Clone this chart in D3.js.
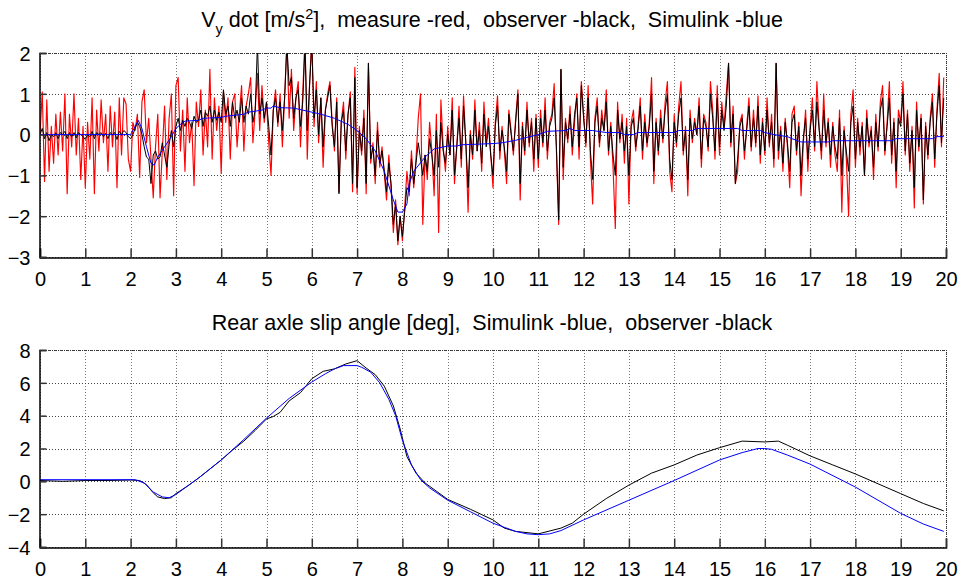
<!DOCTYPE html>
<html>
<head>
<meta charset="utf-8">
<script src="https://cdn.jsdelivr.net/npm/d3@7"></script>
<style>
body { margin: 0; background: #fff; }
svg { display: block; font-family: "Liberation Sans", Arial, sans-serif; }
text { white-space: pre; }
</style>
</head>
<body>
<svg width="966" height="580"></svg>
<script>
// sample step of the measured / observed lateral acceleration [s]
const dt = 0.05;

// lateral acceleration, measurement (red), one value per dt from t = 0
const measure = [
  0.0, 1.05, -1.15, 0.85, -0.9, 0.2, -0.7, 0.5, -0.5, 0.55, -0.4, 1.0, -1.45, 0.5, -0.3, 1.0, -0.5, 0.4, -1.1, 0.2,
  -1.3, 0.3, -0.6, 0.9, -1.45, 0.6, -0.4, 0.85, -0.2, 0.5, -0.9, 0.7, -0.3, 0.55, -1.3, 0.9, -0.5, 0.9, 0.75, -0.6,
  -0.9, 0.3, 0.1, 0.5, -1.05, 0.8, 1.1, -0.2, 0.4, -0.6, -1.55, -0.3, 0.5, -1.55, -0.4, 0.7, -1.1, 0.4, 1.0, -1.5,
  1.2, 1.4, -0.4, 0.6, -0.9, 0.9, -0.2, 0.3, -1.25, 0.8, 0.2, 1.1, -0.5, 0.6, -0.3, 1.6, -0.6, 0.9, 0.1, 0.7,
  -0.95, 1.05, 0.3, 0.9, -0.6, 0.8, 1.0, -0.3, 0.5, 1.2, -0.4, 0.7, 1.0, 1.4, -0.2, 0.6, 1.5, 0.1, 1.2, 0.3,
  0.8, -0.2, -1.0, 0.6, 1.1, 0.2, 1.0, -0.3, 0.9, 2.3, 0.4, 1.6, 0.1, 0.9, 1.3, -0.3, 1.0, 2.4, -0.6, 1.2,
  2.4, 0.2, 1.3, -0.2, 0.9, -0.8, 0.6, 1.0, 1.3, 0.3, -0.4, 0.9, -1.4, 0.3, 0.8, -0.6, 0.5, 1.05, -1.4, 1.65,
  -1.45, 0.2, -0.5, 0.6, -1.45, 1.75, -0.7, -0.2, -1.2, 0.3, -0.8, -0.3, -0.95, -1.6, -0.5, -1.3, -2.4, -1.6, -2.7, -2.0,
  -2.6, -1.8, -0.9, -1.5, -0.4, -1.3, -0.6, 0.4, 1.0, -2.2, -0.5, -1.1, 0.3, -0.4, -1.5, 0.5, -2.4, 0.85, -0.3, -0.9,
  0.2, -0.5, 0.9, -1.2, -0.3, 0.7, -0.8, 0.95, -0.2, -1.9, 0.1, -0.6, 0.85, -0.4, 0.3, -0.9, 0.8, -0.2, 0.4, -0.5,
  -1.3, 0.3, 0.95, -0.6, 0.2, -0.4, -1.2, 0.6, 0.1, -0.5, 0.4, 1.1, -1.6, 0.3, -0.5, 0.8, -0.3, 0.4, -0.9, 0.5,
  -0.8, 0.6, -0.3, 0.9, -0.6, 0.3, 0.5, 1.25, -0.4, -2.2, 1.6, -1.1, 0.4, -0.2, 0.7, -0.5, 0.3, 1.0, -0.6, 1.3,
  0.5, -0.3, 1.2, -0.6, -1.7, 0.4, 0.9, -0.3, 0.6, 0.1, 1.1, -0.5, 0.3, -0.8, -2.3, 0.8, -0.2, 0.5, -0.7, 0.4,
  -1.7, 0.3, 0.6, -0.4, 0.2, 0.9, -0.6, 0.5, -0.3, 0.3, 1.4, -1.2, 0.4, -0.5, 0.6, -0.2, 0.8, 1.3, -0.9, -1.4,
  0.5, -0.3, 0.7, 1.3, -0.5, 0.2, -1.5, 0.6, -0.2, 0.4, 0.0, 0.9, -0.8, 0.5, 0.3, -0.4, 1.3, 0.6, -0.6, 1.2,
  -0.5, 0.8, 0.2, 1.0, 1.75, -0.3, 0.7, -1.2, -0.9, 0.3, 0.5, -0.6, 0.2, 0.9, -0.4, 0.6, -0.3, 0.95, -0.7, 0.4,
  -0.5, 0.9, -0.3, 0.5, -0.8, 1.75, -0.6, 0.2, -0.9, 0.4, -0.3, -1.3, 0.5, 0.7, -0.5, 0.3, -1.5, -0.2, 0.6, -0.9,
  0.2, 0.9, -0.4, 1.3, 0.2, -0.6, 1.0, -0.3, 0.4, -0.8, 0.3, -0.5, -0.9, 0.6, -1.9, 0.2, -0.6, -2.0, 0.5, 1.1,
  -0.8, 0.4, -0.5, 0.3, -1.0, 0.6, -0.3, 0.2, -1.1, 0.5, -0.4, 0.8, 1.2, -0.5, 0.3, 1.3, -0.7, 0.4, -1.3, 0.6,
  0.3, 1.3, -0.5, 0.6, -0.9, 0.2, -1.8, 0.8, -0.4, 0.5, -1.7, 0.3, -0.6, 0.4, 1.0, -0.8, 0.6, 1.5, -0.3, 1.4
];

// lateral acceleration, observer (black), same time base
const observer = [
  0.0, 0.15, -0.1, 0.05, -0.15, 0.0, -0.05, 0.05, -0.1, 0.05, 0.0, 0.08, -0.1, 0.05, -0.05, 0.05, -0.08, 0.05, 0.0, -0.05,
  -0.12, 0.0, -0.05, 0.08, -0.1, 0.05, 0.0, 0.05, -0.05, 0.03, -0.1, 0.05, 0.0, 0.05, -0.12, 0.08, 0.0, 0.1, 0.05, -0.05,
  -0.1, 0.0, 0.15, 0.3, 0.2, 0.0, -0.3, -0.55, -0.6, -1.2, -0.5, -0.4, -0.6, -0.55, -0.2, -0.5, -0.8, -0.25, 0.1, -0.3,
  0.2, 0.4, 0.1, 0.35, 0.2, 0.4, 0.3, 0.15, 0.45, 0.3, 0.35, 0.6, 0.2, 0.55, 0.45, 0.7, 0.3, 0.6, 0.35, 0.55,
  0.3, 1.1, 0.5, 0.7, 0.2, 0.8, 0.4, 0.6, 0.3, 0.9, 0.3, 0.7, 0.5, 1.0, 0.3, 0.6, 2.2, 0.5, 0.9, 0.4,
  0.8, 0.2, -0.5, 0.6, 0.9, 0.3, 0.8, 0.1, 0.9, 2.2, 1.2, 1.4, 0.4, 0.9, 1.1, 0.2, 0.8, 2.2, 0.1, 1.2,
  2.2, 0.4, 1.1, 0.0, 0.9, -0.3, 0.6, 0.9, 1.2, 0.2, -0.3, 0.8, -1.45, 0.3, 0.6, -0.4, 0.5, 0.9, -1.2, 1.4,
  -1.3, 0.1, -0.4, 0.4, -1.2, 1.75, -0.6, -0.3, -1.0, 0.1, -0.7, -0.4, -0.9, -1.4, -0.7, -1.2, -2.2, -1.7, -2.6, -2.0,
  -2.5, -1.9, -1.3, -1.4, -0.6, -1.2, -0.7, -0.2, -0.6, -1.0, -0.5, -0.9, -0.1, -0.5, -1.0, 0.1, -0.8, 0.3, -0.4, -0.7,
  0.0, -0.5, 0.6, -1.0, -0.3, 0.4, -0.6, 0.7, -0.2, -1.3, 0.0, -0.5, 0.6, -0.4, 0.1, -0.7, 0.5, -0.3, 0.2, -0.5,
  -1.0, 0.2, 0.7, -0.4, 0.1, -0.3, -0.9, 0.5, 0.0, -0.4, 0.3, 1.0, -1.2, 0.2, -0.4, 0.6, -0.2, 0.3, -0.6, 0.4,
  -0.6, 0.4, -0.2, 0.6, -0.4, 0.2, 0.4, 0.9, -0.3, -2.1, 1.6, -0.8, 0.3, -0.1, 0.5, -0.3, 0.5, 0.9, -0.3, 1.2,
  0.4, -0.2, 0.9, -0.4, -1.1, 0.3, 0.7, -0.2, 0.4, 0.1, 0.8, -0.4, 0.2, -0.5, -1.0, 0.6, -0.1, 0.3, -0.4, 0.2,
  -1.0, 0.2, 0.4, -0.3, 0.1, 0.7, -0.4, 0.3, -0.2, 0.2, 1.0, -0.9, 0.3, -0.4, 0.4, -0.1, 0.6, 1.0, -0.6, -1.1,
  0.3, -0.2, 0.5, 0.9, -0.4, 0.1, -1.1, 0.4, -0.1, 0.3, 0.0, 0.7, -0.6, 0.4, 0.2, -0.3, 1.0, 0.4, -0.4, 0.9,
  -0.3, 0.6, 0.1, 0.7, 1.75, -0.2, 0.5, -1.2, -0.6, 0.2, 0.4, -0.4, 0.1, 0.7, -0.3, 0.4, -0.2, 0.7, -0.5, 0.3,
  -0.4, 0.6, -0.2, 0.3, -0.6, 1.75, -0.4, 0.1, -0.7, 0.3, -0.2, -0.9, 0.3, 0.5, -0.4, 0.2, -1.0, -0.1, 0.4, -0.6,
  0.1, 0.6, -0.3, 0.8, 0.1, -0.4, 0.6, -0.2, 0.3, -0.5, 0.2, -0.3, -0.6, 0.4, -1.0, 0.1, -0.4, -0.9, 0.3, 0.7,
  -0.6, 0.3, -0.3, 0.2, -1.0, 0.4, -0.2, 0.1, -0.8, 0.3, -0.3, 0.6, 0.9, -0.4, 0.2, 0.9, -0.5, 0.3, -0.9, 0.4,
  0.2, 1.0, -0.4, 0.5, -0.7, 0.1, -1.3, 0.6, -0.3, 0.4, -1.6, 0.2, -0.5, 0.3, 0.8, -0.6, 0.5, 1.2, -0.2, 0.9
];

// lateral acceleration, Simulink (blue)
const accSimT = [0, 2.0, 2.1, 2.17, 2.25, 2.35, 2.45, 2.52, 2.6, 2.75, 2.9, 3.0, 3.1, 3.2, 3.5, 3.6, 4.0, 4.1, 4.5, 4.6, 4.9, 5.0, 5.1, 5.15, 5.3, 5.6, 5.8, 6.2, 6.5, 6.8, 7.0, 7.2, 7.4, 7.6, 7.8, 7.9, 8.0, 8.1, 8.15, 8.25, 8.5, 8.7, 9.0, 9.2, 9.3, 10.0, 10.2, 10.5, 10.7, 11.0, 11.2, 11.6, 11.7, 11.8, 12.2, 12.5, 12.8, 12.9, 13.1, 13.2, 14.0, 14.1, 14.4, 14.5, 15.4, 15.5, 15.9, 16.0, 16.2, 16.5, 16.6, 16.8, 17.4, 17.5, 18.8, 18.9, 19.7, 19.8, 19.95];
const accSimV = [0, 0, 0.2, 0.35, 0.15, -0.3, -0.7, -0.75, -0.55, -0.3, -0.05, 0.15, 0.25, 0.33, 0.35, 0.4, 0.42, 0.45, 0.5, 0.55, 0.6, 0.65, 0.65, 0.7, 0.66, 0.65, 0.6, 0.5, 0.4, 0.25, 0.1, -0.1, -0.4, -0.9, -1.6, -1.9, -1.9, -1.7, -1.2, -0.9, -0.55, -0.35, -0.28, -0.28, -0.25, -0.22, -0.2, -0.14, -0.08, 0.0, 0.08, 0.1, 0.15, 0.1, 0.1, 0.05, 0.05, 0.0, 0.0, 0.05, 0.05, 0.1, 0.1, 0.15, 0.15, 0.1, 0.1, 0.05, 0.0, -0.05, -0.1, -0.18, -0.18, -0.15, -0.15, -0.1, -0.1, -0.05, -0.05];

// rear axle slip angle, Simulink (blue)
const slipSimT = [0, 2.1, 2.3, 2.5, 2.7, 2.85, 3.0, 3.5, 4.0, 4.5, 5.0, 5.5, 6.0, 6.3, 6.5, 6.7, 7.0, 7.1, 7.3, 7.5, 7.7, 7.85, 8.0, 8.2, 8.4, 8.6, 9.0, 9.5, 10.0, 10.5, 10.75, 11.0, 11.25, 11.5, 12.0, 13.0, 14.0, 15.0, 15.5, 15.85, 16.0, 16.15, 16.5, 17.0, 18.0, 19.0, 19.5, 19.95];
const slipSimV = [0.1, 0.1, -0.1, -0.65, -0.95, -1.0, -0.8, 0.2, 1.3, 2.55, 3.85, 5.05, 6.05, 6.55, 6.85, 7.05, 7.05, 6.95, 6.65, 6.0, 5.0, 4.0, 2.5, 1.0, 0.1, -0.4, -1.15, -1.85, -2.55, -3.05, -3.2, -3.25, -3.2, -3.0, -2.35, -1.15, 0.05, 1.3, 1.75, 2.0, 2.0, 1.95, 1.6, 1.05, -0.35, -1.95, -2.6, -3.05];

// rear axle slip angle, observer (black)
const slipObsT = [0, 0.5, 1.0, 1.5, 2.0, 2.2, 2.35, 2.5, 2.6, 2.75, 2.9, 3.0, 3.25, 3.5, 3.75, 4.0, 4.25, 4.5, 4.75, 5.0, 5.15, 5.3, 5.5, 5.75, 6.0, 6.25, 6.5, 6.75, 7.0, 7.2, 7.4, 7.6, 7.8, 7.95, 8.1, 8.3, 8.5, 8.75, 9.0, 9.5, 10.0, 10.25, 10.5, 11.0, 11.5, 11.75, 12.0, 12.5, 13.0, 13.5, 14.0, 14.5, 15.0, 15.5, 16.0, 16.3, 16.5, 17.0, 17.5, 18.0, 18.5, 19.0, 19.5, 19.95];
const slipObsV = [0.05, 0.0, 0.05, 0.05, 0.08, 0.05, -0.2, -0.7, -0.95, -1.05, -1.0, -0.75, -0.3, 0.2, 0.75, 1.3, 1.9, 2.45, 3.1, 3.8, 3.95, 4.2, 4.9, 5.4, 6.25, 6.7, 6.85, 7.15, 7.35, 6.9, 6.5, 5.8, 4.6, 3.2, 1.5, 0.5, -0.1, -0.6, -1.1, -1.7, -2.35, -2.85, -3.05, -3.2, -2.85, -2.55, -2.0, -1.05, -0.23, 0.5, 1.0, 1.6, 2.05, 2.45, 2.4, 2.45, 2.2, 1.55, 1.0, 0.45, -0.15, -0.75, -1.35, -1.8];

const xTicks = [0, 1, 2, 3, 4, 5, 6, 7, 8, 9, 10, 11, 12, 13, 14, 15, 16, 17, 18, 19, 20];
const accTicks = [-3, -2, -1, 0, 1, 2];
const slipTicks = [-4, -2, 0, 2, 4, 6, 8];

const svg = d3.select("svg");
const left = 40, right = 946;
const x = d3.scaleLinear().domain([0, 20]).range([left, right]);

function panel(id, top, bottom, domain, ticks, series) {
	const y = d3.scaleLinear().domain(domain).range([bottom, top]);
	const g = svg.append("g");

	g.append("defs").append("clipPath").attr("id", id)
		.append("rect").attr("x", left).attr("y", top).attr("width", right - left).attr("height", bottom - top);

	// dotted grid
	g.append("g").selectAll("line").data(xTicks).join("line")
		.attr("x1", d => Math.round(x(d)) + 0.5).attr("x2", d => Math.round(x(d)) + 0.5)
		.attr("y1", top).attr("y2", bottom)
		.attr("stroke", "#777").attr("stroke-dasharray", "1,2");
	g.append("g").selectAll("line").data(ticks).join("line")
		.attr("x1", left).attr("x2", right)
		.attr("y1", d => Math.round(y(d)) + 0.5).attr("y2", d => Math.round(y(d)) + 0.5)
		.attr("stroke", "#444").attr("stroke-dasharray", "1,2");

	// curves
	const lines = g.append("g").attr("clip-path", "url(#" + id + ")");
	series.forEach(s => {
		const line = d3.line().x(d => x(d[0])).y(d => y(d[1]));
		lines.append("path").datum(s.pts)
			.attr("d", line).attr("fill", "none")
			.attr("stroke", s.color).attr("stroke-width", s.width || 1)
			.attr("stroke-linejoin", "round");
	});

	// axes
	const xAxis = g.append("g").attr("transform", "translate(0," + (Math.round(bottom) + 0.5) + ")")
		.call(d3.axisBottom(x).tickValues(xTicks).tickSize(-9).tickPadding(14).tickFormat(d3.format("d")));
	const yAxis = g.append("g").attr("transform", "translate(" + (left - 0.5) + ",0)")
		.call(d3.axisLeft(y).tickValues(ticks).tickSize(-7).tickPadding(9).tickFormat(d3.format("d")));
	[xAxis, yAxis].forEach(a => {
		a.select(".domain").attr("stroke", "#000").attr("stroke-width", 1.5);
		a.selectAll(".tick line").attr("stroke", "#333").attr("stroke-width", 1.5);
		a.selectAll(".tick text").attr("fill", "#000").attr("font-size", 20)
			.attr("font-family", "Liberation Sans, Arial, sans-serif");
	});
	yAxis.selectAll(".tick text").attr("dy", "0.36em");

	// box top / right
	g.append("line").attr("x1", left).attr("x2", right).attr("y1", top + 0.5).attr("y2", top + 0.5)
		.attr("stroke", "#333").attr("stroke-dasharray", "1,1");
	g.append("line").attr("x1", right + 0.5).attr("x2", right + 0.5).attr("y1", top).attr("y2", bottom)
		.attr("stroke", "#333").attr("stroke-dasharray", "1,1");
	return y;
}

panel("clipAcc", 53, 257, [-3, 2], accTicks, [
	{ color: "#ff0000", width: 1.15, pts: measure.map((v, i) => [i * dt, v]) },
	{ color: "#000000", pts: observer.map((v, i) => [i * dt, v]) },
	{ color: "#0000ff", pts: accSimT.map((t, i) => [t, accSimV[i]]) }
]);

panel("clipSlip", 350, 547, [-4, 8], slipTicks, [
	{ color: "#000000", pts: slipObsT.map((t, i) => [t, slipObsV[i]]) },
	{ color: "#0000ff", pts: slipSimT.map((t, i) => [t, slipSimV[i]]) }
]);

// titles
const t1 = svg.append("text").attr("x", 492).attr("y", 27).attr("text-anchor", "middle")
	.attr("font-size", 21.5).attr("fill", "#000");
t1.append("tspan").text("V");
t1.append("tspan").attr("font-size", 14.5).attr("dy", 7).text("y");
t1.append("tspan").attr("dy", -7).text(" dot [m/s");
t1.append("tspan").attr("font-size", 14.5).attr("dy", -8).text("2");
t1.append("tspan").attr("dy", 8).text("],  measure -red,  observer -black,  Simulink -blue");

svg.append("text").attr("x", 492).attr("y", 330).attr("text-anchor", "middle")
	.attr("font-size", 21.5).attr("fill", "#000")
	.text("Rear axle slip angle [deg],  Simulink -blue,  observer -black");
</script>
</body>
</html>
